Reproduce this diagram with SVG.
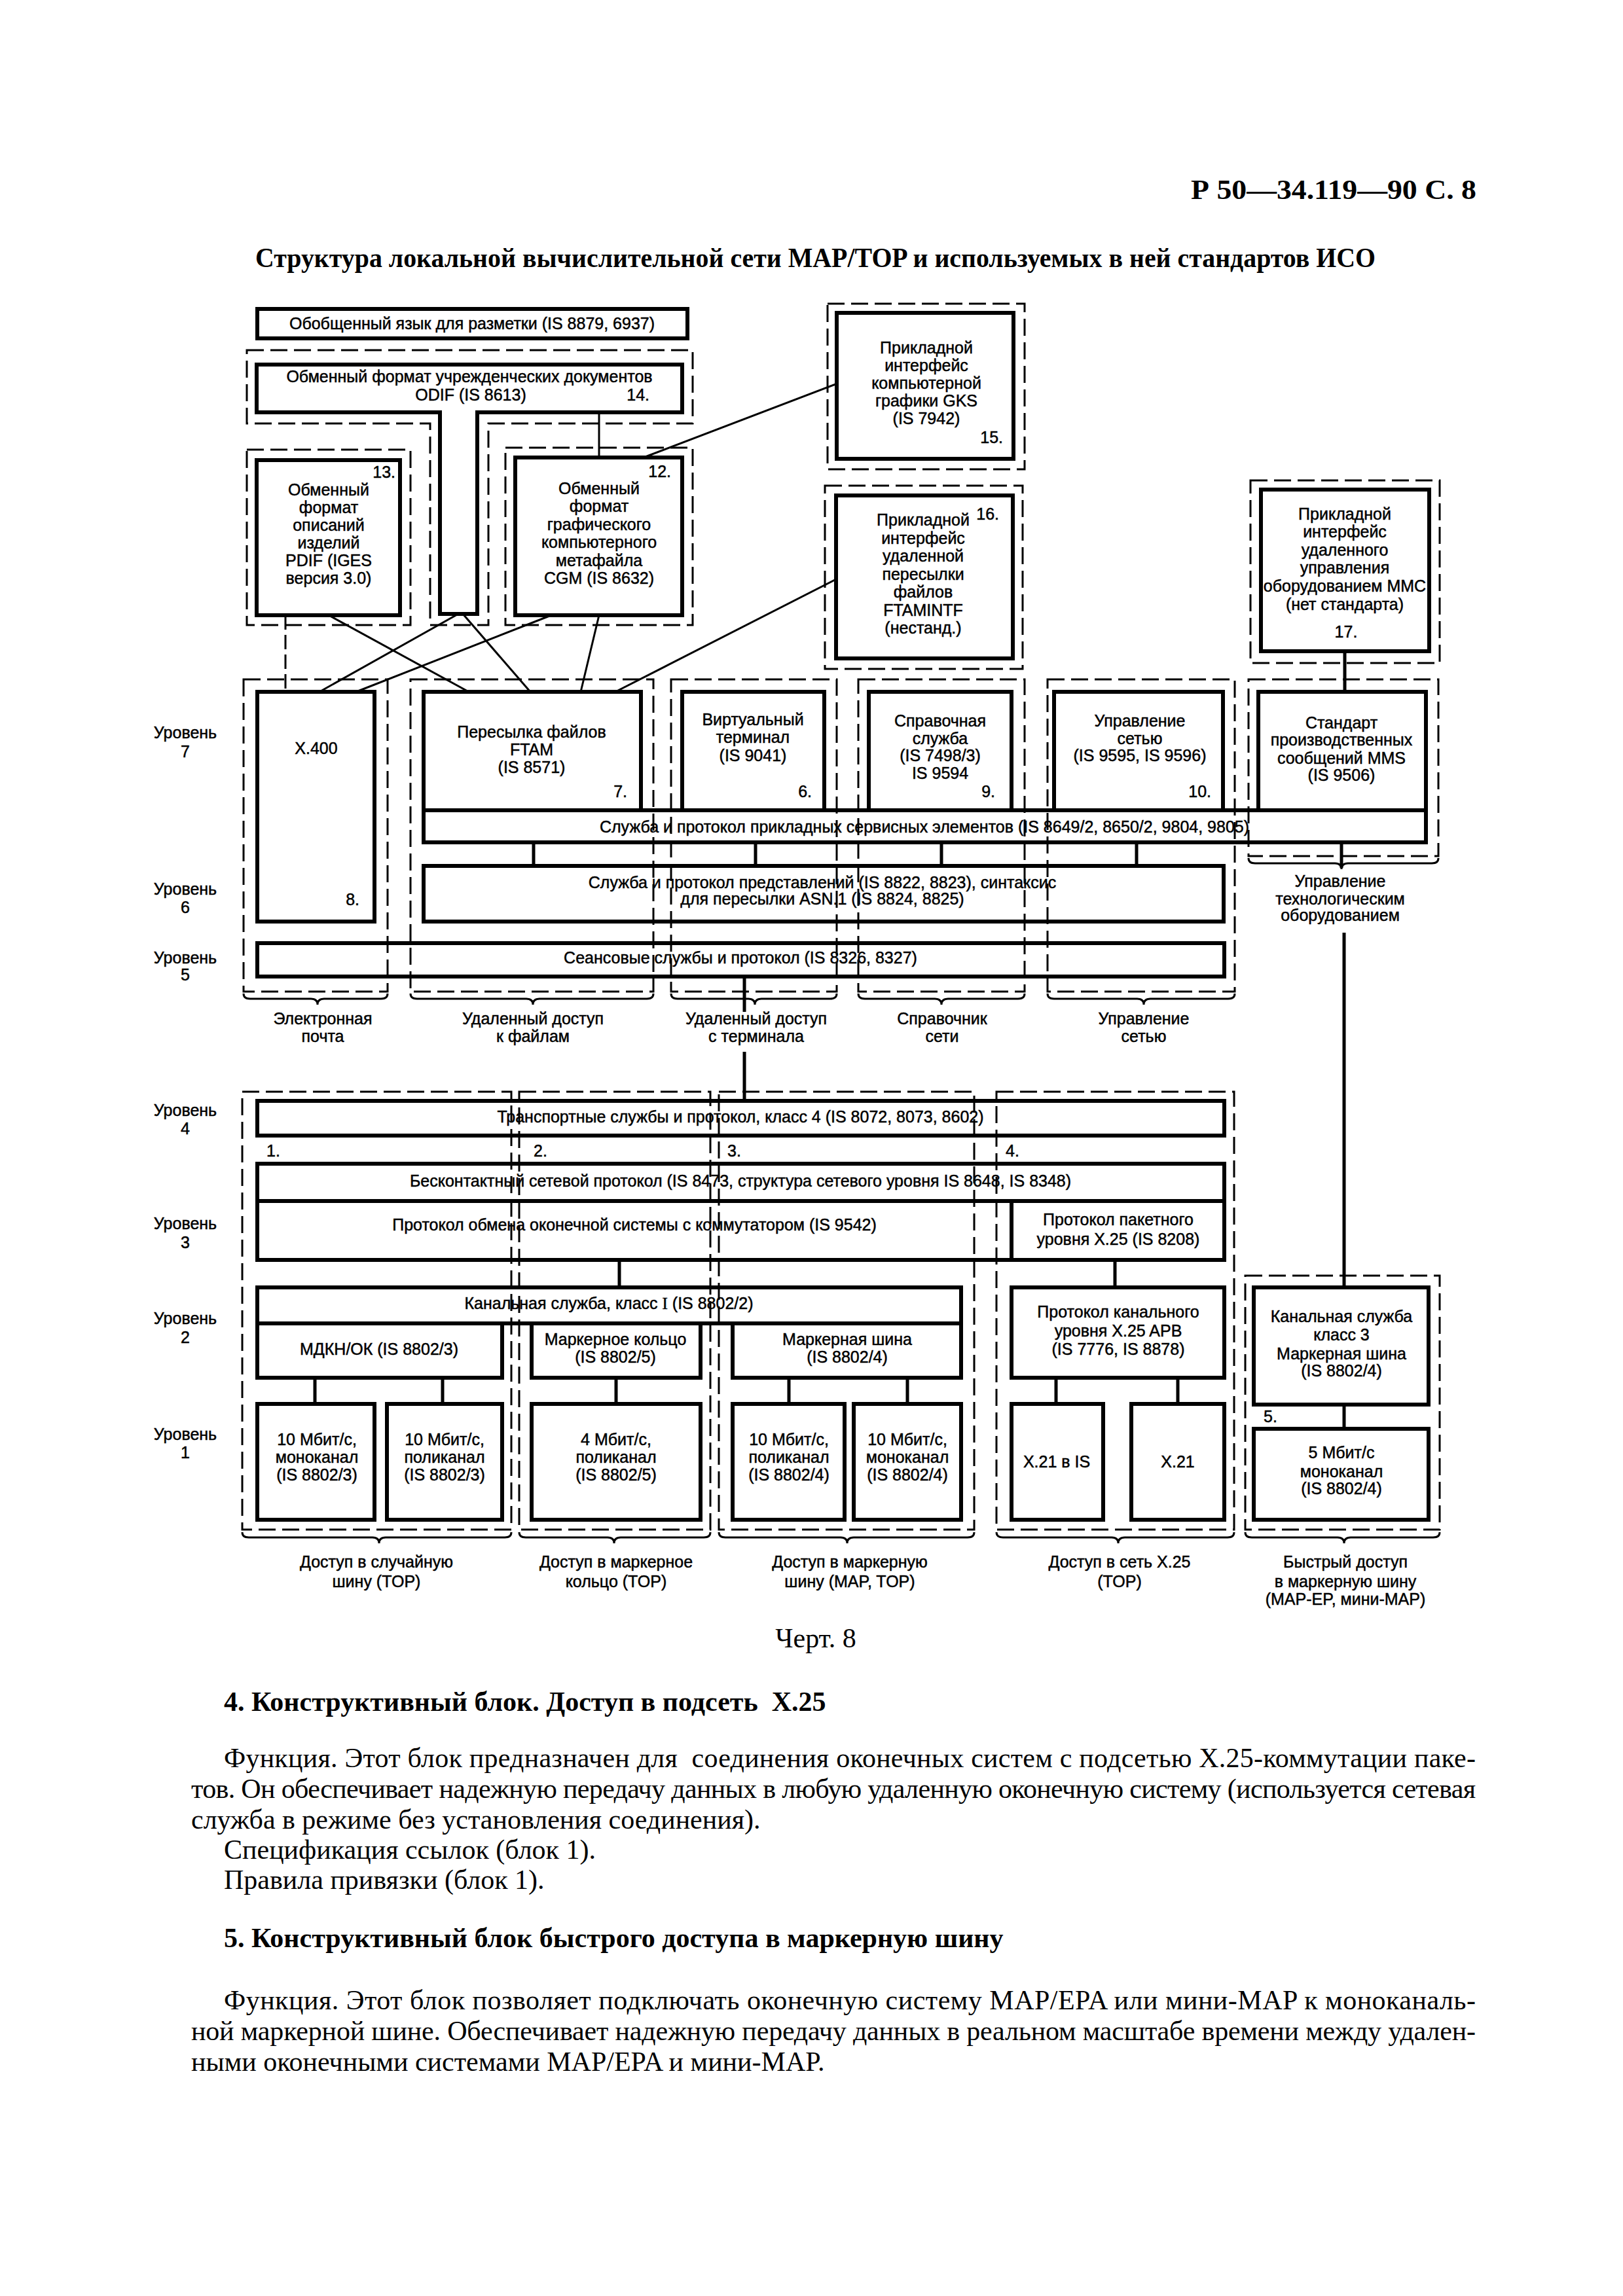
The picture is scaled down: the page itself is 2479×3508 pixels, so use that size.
<svg xmlns="http://www.w3.org/2000/svg" width="2479" height="3508" viewBox="0 0 2479 3508">
<style>
.b{fill:none;stroke:#000;stroke-width:6}
.d{fill:none;stroke:#000;stroke-width:3;stroke-dasharray:26 10}
.c{fill:none;stroke:#000;stroke-width:3}
.k{fill:none;stroke:#000;stroke-width:5}
.br{fill:none;stroke:#000;stroke-width:3}
.t{font-family:"Liberation Sans",Arial,sans-serif;font-size:25px;text-anchor:middle;fill:#000;stroke:#000;stroke-width:0.5}
.e{font-family:"Liberation Sans",Arial,sans-serif;font-size:25px;text-anchor:end;fill:#000;stroke:#000;stroke-width:0.5}
.s{font-family:"Liberation Sans",Arial,sans-serif;font-size:25px;text-anchor:start;fill:#000;stroke:#000;stroke-width:0.5}
.p{font-family:"Liberation Serif","Times New Roman",serif;font-size:42px;fill:#000}
.h{font-family:"Liberation Serif","Times New Roman",serif;font-size:42px;font-weight:bold;fill:#000}
</style>
<rect width="2479" height="3508" fill="#fff"/>

<g id="header">
<text class="h" x="2255" y="304" font-size="48" text-anchor="end" textLength="436" lengthAdjust="spacingAndGlyphs">Р 50—34.119—90 С. 8</text>
<text class="h" x="390" y="408" font-size="39" textLength="1711" lengthAdjust="spacingAndGlyphs">Структура локальной вычислительной сети MAP/TOP и используемых в ней стандартов ИСО</text>
</g>

<g id="groups">
<polygon class="d" points="377,535 1058,535 1058,647 746,647 746,955 657,955 657,647 377,647"/>
<rect class="d" x="377" y="687" width="250" height="268"/>
<rect class="d" x="772" y="684" width="286" height="271"/>
<rect class="d" x="1264" y="464" width="301" height="253"/>
<rect class="d" x="1260" y="742" width="302" height="280"/>
<rect class="d" x="1910" y="734" width="289" height="279"/>
<rect class="d" x="372" y="1038" width="220" height="477"/>
<rect class="d" x="627" y="1038" width="371" height="477"/>
<rect class="d" x="1025" y="1038" width="253" height="477"/>
<rect class="d" x="1311" y="1038" width="254" height="477"/>
<rect class="d" x="1600" y="1038" width="286" height="477"/>
<rect class="d" x="1907" y="1038" width="290" height="270"/>
<rect class="d" x="370" y="1668" width="411" height="669"/>
<rect class="d" x="793" y="1668" width="292" height="669"/>
<rect class="d" x="1098" y="1668" width="390" height="669"/>
<rect class="d" x="1522" y="1668" width="363" height="669"/>
<rect class="d" x="1902" y="1949" width="297" height="388"/>
<path class="br" d="M372,1518 Q372,1526 382,1526 H475 Q485,1526 485,1535 Q485,1526 495,1526 H582 Q592,1526 592,1518"/>
<path class="br" d="M627,1518 Q627,1526 637,1526 H804 Q814,1526 814,1535 Q814,1526 824,1526 H988 Q998,1526 998,1518"/>
<path class="br" d="M1025,1518 Q1025,1526 1035,1526 H1143 Q1153,1526 1153,1535 Q1153,1526 1163,1526 H1268 Q1278,1526 1278,1518"/>
<path class="br" d="M1311,1518 Q1311,1526 1321,1526 H1428 Q1438,1526 1438,1535 Q1438,1526 1448,1526 H1555 Q1565,1526 1565,1518"/>
<path class="br" d="M1600,1518 Q1600,1526 1610,1526 H1737 Q1747,1526 1747,1535 Q1747,1526 1757,1526 H1876 Q1886,1526 1886,1518"/>
<path class="br" d="M1907,1311 Q1907,1319 1917,1319 H2039 Q2049,1319 2049,1328 Q2049,1319 2059,1319 H2187 Q2197,1319 2197,1311"/>
<path class="br" d="M370,2341 Q370,2349 380,2349 H569 Q579,2349 579,2358 Q579,2349 589,2349 H771 Q781,2349 781,2341"/>
<path class="br" d="M793,2341 Q793,2349 803,2349 H928 Q938,2349 938,2358 Q938,2349 948,2349 H1075 Q1085,2349 1085,2341"/>
<path class="br" d="M1098,2341 Q1098,2349 1108,2349 H1284 Q1294,2349 1294,2358 Q1294,2349 1304,2349 H1478 Q1488,2349 1488,2341"/>
<path class="br" d="M1522,2341 Q1522,2349 1532,2349 H1698 Q1708,2349 1708,2358 Q1708,2349 1718,2349 H1875 Q1885,2349 1885,2341"/>
<path class="br" d="M1902,2341 Q1902,2349 1912,2349 H2043 Q2053,2349 2053,2358 Q2053,2349 2063,2349 H2189 Q2199,2349 2199,2341"/>
</g>

<g id="connectors">
<line class="c" x1="1279" y1="586" x2="983" y2="699"/>
<line class="c" x1="1279" y1="884" x2="940" y2="1057"/>
<line class="c" x1="502" y1="940" x2="716" y2="1057"/>
<line class="c" x1="700" y1="938" x2="488" y2="1057"/>
<line class="c" x1="707" y1="938" x2="810" y2="1057"/>
<line class="c" x1="842" y1="940" x2="544" y2="1057"/>
<line class="c" x1="915" y1="940" x2="887" y2="1057"/>
<line class="c" x1="436" y1="940" x2="436" y2="1057" stroke-dasharray="22 8"/>
<line class="c" x1="915" y1="630" x2="915" y2="699" stroke-width="2"/>
<line class="k" x1="2054" y1="995" x2="2054" y2="1057"/>
<line class="k" x1="815" y1="1287" x2="815" y2="1323"/>
<line class="k" x1="1154" y1="1287" x2="1154" y2="1323"/>
<line class="k" x1="1438" y1="1287" x2="1438" y2="1323"/>
<line class="k" x1="1736" y1="1287" x2="1736" y2="1323"/>
<line class="k" x1="2049" y1="1287" x2="2049" y2="1326"/>
<line class="k" x1="2053" y1="1425" x2="2053" y2="1967"/>
<line class="k" x1="1137" y1="1492" x2="1137" y2="1546"/>
<line class="k" x1="1137" y1="1607" x2="1137" y2="1682"/>
<line class="k" x1="946" y1="1925" x2="946" y2="1967"/>
<line class="k" x1="1703" y1="1925" x2="1703" y2="1967"/>
<line class="k" x1="481" y1="2105" x2="481" y2="2145"/>
<line class="k" x1="676" y1="2105" x2="676" y2="2145"/>
<line class="k" x1="941" y1="2105" x2="941" y2="2145"/>
<line class="k" x1="1205" y1="2105" x2="1205" y2="2145"/>
<line class="k" x1="1386" y1="2105" x2="1386" y2="2145"/>
<line class="k" x1="1613" y1="2105" x2="1613" y2="2145"/>
<line class="k" x1="1799" y1="2105" x2="1799" y2="2145"/>
<line class="k" x1="2053" y1="2146" x2="2053" y2="2183"/>
</g>

<g id="n-sgml">
<rect class="b" x="393" y="472" width="657" height="45"/>
<text class="t" x="721" y="503">Обобщенный язык для разметки (IS 8879, 6937)</text>
</g>
<g id="n-odif">
<polygon class="b" points="392,557 1042,557 1042,630 729,630 729,938 672,938 672,630 392,630"/>
<text class="t" x="717" y="584">Обменный формат учрежденческих документов</text>
<text class="t" x="719" y="612">ODIF (IS 8613)</text>
<text class="e" x="992" y="612">14.</text>
</g>
<g id="n-pdif">
<rect class="b" x="392" y="703" width="219" height="237"/>
<text class="e" x="604" y="730">13.</text>
<text class="t" x="502" y="757">Обменный</text>
<text class="t" x="502" y="784">формат</text>
<text class="t" x="502" y="811">описаний</text>
<text class="t" x="502" y="838">изделий</text>
<text class="t" x="502" y="865">PDIF (IGES</text>
<text class="t" x="502" y="892">версия 3.0)</text>
</g>
<g id="n-cgm">
<rect class="b" x="787" y="699" width="255" height="241"/>
<text class="e" x="1025" y="729">12.</text>
<text class="t" x="915" y="755">Обменный</text>
<text class="t" x="915" y="782">формат</text>
<text class="t" x="915" y="810">графического</text>
<text class="t" x="915" y="837">компьютерного</text>
<text class="t" x="915" y="865">метафайла</text>
<text class="t" x="915" y="892">CGM (IS 8632)</text>
</g>
<g id="n-gks">
<rect class="b" x="1278" y="478" width="270" height="223"/>
<text class="t" x="1415" y="540">Прикладной</text>
<text class="t" x="1415" y="567">интерфейс</text>
<text class="t" x="1415" y="594">компьютерной</text>
<text class="t" x="1415" y="621">графики GKS</text>
<text class="t" x="1415" y="648">(IS 7942)</text>
<text class="e" x="1532" y="677">15.</text>
</g>
<g id="n-ftamintf">
<rect class="b" x="1277" y="757" width="270" height="249"/>
<text class="e" x="1526" y="794">16.</text>
<text class="t" x="1410" y="803">Прикладной</text>
<text class="t" x="1410" y="831">интерфейс</text>
<text class="t" x="1410" y="858">удаленной</text>
<text class="t" x="1410" y="886">пересылки</text>
<text class="t" x="1410" y="913">файлов</text>
<text class="t" x="1410" y="941">FTAMINTF</text>
<text class="t" x="1410" y="968">(нестанд.)</text>
</g>
<g id="n-mmc">
<rect class="b" x="1926" y="748" width="257" height="247"/>
<text class="t" x="2054" y="794">Прикладной</text>
<text class="t" x="2054" y="821">интерфейс</text>
<text class="t" x="2054" y="849">удаленного</text>
<text class="t" x="2054" y="876">управления</text>
<text class="t" x="2054" y="904">оборудованием MMC</text>
<text class="t" x="2054" y="932">(нет стандарта)</text>
<text class="t" x="2056" y="974">17.</text>
</g>

<g id="levels">
<text class="t" x="283" y="1128">Уровень</text><text class="t" x="283" y="1157">7</text>
<text class="t" x="283" y="1367">Уровень</text><text class="t" x="283" y="1395">6</text>
<text class="t" x="283" y="1472">Уровень</text><text class="t" x="283" y="1498">5</text>
<text class="t" x="283" y="1705">Уровень</text><text class="t" x="283" y="1733">4</text>
<text class="t" x="283" y="1878">Уровень</text><text class="t" x="283" y="1907">3</text>
<text class="t" x="283" y="2023">Уровень</text><text class="t" x="283" y="2052">2</text>
<text class="t" x="283" y="2200">Уровень</text><text class="t" x="283" y="2228">1</text>
</g>

<g id="n-x400">
<rect class="b" x="393" y="1057" width="179" height="351"/>
<text class="t" x="483" y="1152">X.400</text>
<text class="e" x="549" y="1383">8.</text>
</g>
<g id="n-ftam">
<rect class="b" x="647" y="1057" width="332" height="181"/>
<text class="t" x="812" y="1127">Пересылка файлов</text>
<text class="t" x="812" y="1154">FTAM</text>
<text class="t" x="812" y="1181">(IS 8571)</text>
<text class="e" x="958" y="1218">7.</text>
</g>
<g id="n-vt">
<rect class="b" x="1042" y="1057" width="217" height="181"/>
<text class="t" x="1150" y="1108">Виртуальный</text>
<text class="t" x="1150" y="1135">терминал</text>
<text class="t" x="1150" y="1163">(IS 9041)</text>
<text class="e" x="1240" y="1218">6.</text>
</g>
<g id="n-ds">
<rect class="b" x="1327" y="1057" width="218" height="181"/>
<text class="t" x="1436" y="1110">Справочная</text>
<text class="t" x="1436" y="1137">служба</text>
<text class="t" x="1436" y="1163">(IS 7498/3)</text>
<text class="t" x="1436" y="1190">IS 9594</text>
<text class="e" x="1520" y="1218">9.</text>
</g>
<g id="n-nm">
<rect class="b" x="1610" y="1057" width="258" height="181"/>
<text class="t" x="1741" y="1110">Управление</text>
<text class="t" x="1741" y="1137">сетью</text>
<text class="t" x="1741" y="1163">(IS 9595, IS 9596)</text>
<text class="e" x="1850" y="1218">10.</text>
</g>
<g id="n-mms">
<rect class="b" x="1922" y="1057" width="256" height="181"/>
<text class="t" x="2049" y="1113">Стандарт</text>
<text class="t" x="2049" y="1139">производственных</text>
<text class="t" x="2049" y="1167">сообщений MMS</text>
<text class="t" x="2049" y="1193">(IS 9506)</text>
</g>
<g id="n-ase">
<rect class="b" x="647" y="1238" width="1531" height="49"/>
<text class="t" x="1412" y="1272">Служба и протокол прикладных сервисных элементов (IS 8649/2, 8650/2, 9804, 9805)</text>
</g>
<g id="n-pres">
<rect class="b" x="647" y="1323" width="1222" height="85"/>
<text class="t" x="1256" y="1357">Служба и протокол представлений (IS 8822, 8823), синтаксис</text>
<text class="t" x="1256" y="1382">для пересылки ASN.1 (IS 8824, 8825)</text>
</g>
<g id="n-sess">
<rect class="b" x="393" y="1441" width="1477" height="51"/>
<text class="t" x="1131" y="1472">Сеансовые службы и протокол (IS 8326, 8327)</text>
</g>
<g id="labels-upper">
<text class="t" x="493" y="1565">Электронная</text><text class="t" x="493" y="1592">почта</text>
<text class="t" x="814" y="1565">Удаленный доступ</text><text class="t" x="814" y="1592">к файлам</text>
<text class="t" x="1155" y="1565">Удаленный доступ</text><text class="t" x="1155" y="1592">с терминала</text>
<text class="t" x="1439" y="1565">Справочник</text><text class="t" x="1439" y="1592">сети</text>
<text class="t" x="1747" y="1565">Управление</text><text class="t" x="1747" y="1592">сетью</text>
<text class="t" x="2047" y="1355">Управление</text><text class="t" x="2047" y="1382">технологическим</text><text class="t" x="2047" y="1407">оборудованием</text>
</g>

<g id="n-transport">
<rect class="b" x="393" y="1682" width="1477" height="53"/>
<text class="t" x="1131" y="1715">Транспортные службы и протокол, класс 4 (IS 8072, 8073, 8602)</text>
</g>
<g id="numbers">
<text class="s" x="407" y="1767">1.</text>
<text class="s" x="815" y="1767">2.</text>
<text class="s" x="1111" y="1767">3.</text>
<text class="s" x="1536" y="1767">4.</text>
<text class="s" x="1930" y="2173">5.</text>
</g>
<g id="n-clnp">
<rect class="b" x="393" y="1778" width="1477" height="57"/>
<text class="t" x="1131" y="1813">Бесконтактный сетевой протокол (IS 8473, структура сетевого уровня IS 8648, IS 8348)</text>
</g>
<g id="n-esis">
<rect class="b" x="393" y="1835" width="1477" height="90"/>
<text class="t" x="969" y="1880">Протокол обмена оконечной системы с коммутатором (IS 9542)</text>
</g>
<g id="n-x25plp">
<line class="b" x1="1545" y1="1835" x2="1545" y2="1925"/>
<text class="t" x="1708" y="1872">Протокол пакетного</text>
<text class="t" x="1708" y="1902">уровня X.25 (IS 8208)</text>
</g>
<g id="n-llc">
<rect class="b" x="393" y="1967" width="1075" height="55"/>
<text class="t" x="930" y="2000">Канальная служба, класс <tspan font-family="Liberation Serif, serif">I</tspan> (IS 8802/2)</text>
</g>
<g id="n-csma">
<rect class="b" x="393" y="2022" width="374" height="83"/>
<text class="t" x="579" y="2070">МДКН/ОК (IS 8802/3)</text>
</g>
<g id="n-ring">
<rect class="b" x="812" y="2022" width="258" height="83"/>
<text class="t" x="940" y="2055">Маркерное кольцо</text>
<text class="t" x="940" y="2082">(IS 8802/5)</text>
</g>
<g id="n-bus">
<rect class="b" x="1119" y="2022" width="349" height="83"/>
<text class="t" x="1294" y="2055">Маркерная шина</text>
<text class="t" x="1294" y="2082">(IS 8802/4)</text>
</g>
<g id="n-x25link">
<rect class="b" x="1545" y="1967" width="325" height="138"/>
<text class="t" x="1708" y="2013">Протокол канального</text>
<text class="t" x="1708" y="2042">уровня X.25 APB</text>
<text class="t" x="1708" y="2070">(IS 7776, IS 8878)</text>
</g>
<g id="n-llc3">
<rect class="b" x="1915" y="1967" width="267" height="179"/>
<text class="t" x="2049" y="2020">Канальная служба</text>
<text class="t" x="2049" y="2048">класс 3</text>
<text class="t" x="2049" y="2077">Маркерная шина</text>
<text class="t" x="2049" y="2103">(IS 8802/4)</text>
</g>
<g id="n-phy1">
<rect class="b" x="393" y="2145" width="179" height="177"/>
<text class="t" x="484" y="2208">10 Мбит/с,</text><text class="t" x="484" y="2235">моноканал</text><text class="t" x="484" y="2262">(IS 8802/3)</text>
</g>
<g id="n-phy2">
<rect class="b" x="591" y="2145" width="176" height="177"/>
<text class="t" x="679" y="2208">10 Мбит/с,</text><text class="t" x="679" y="2235">поликанал</text><text class="t" x="679" y="2262">(IS 8802/3)</text>
</g>
<g id="n-phy3">
<rect class="b" x="812" y="2145" width="258" height="177"/>
<text class="t" x="941" y="2208">4 Мбит/с,</text><text class="t" x="941" y="2235">поликанал</text><text class="t" x="941" y="2262">(IS 8802/5)</text>
</g>
<g id="n-phy4">
<rect class="b" x="1119" y="2145" width="171" height="177"/>
<text class="t" x="1205" y="2208">10 Мбит/с,</text><text class="t" x="1205" y="2235">поликанал</text><text class="t" x="1205" y="2262">(IS 8802/4)</text>
</g>
<g id="n-phy5">
<rect class="b" x="1304" y="2145" width="164" height="177"/>
<text class="t" x="1386" y="2208">10 Мбит/с,</text><text class="t" x="1386" y="2235">моноканал</text><text class="t" x="1386" y="2262">(IS 8802/4)</text>
</g>
<g id="n-x21is">
<rect class="b" x="1545" y="2145" width="140" height="177"/>
<text class="t" x="1614" y="2242">X.21 в IS</text>
</g>
<g id="n-x21">
<rect class="b" x="1728" y="2145" width="142" height="177"/>
<text class="t" x="1799" y="2242">X.21</text>
</g>
<g id="n-phy6">
<rect class="b" x="1915" y="2183" width="267" height="139"/>
<text class="t" x="2049" y="2228">5 Мбит/с</text><text class="t" x="2049" y="2257">моноканал</text><text class="t" x="2049" y="2283">(IS 8802/4)</text>
</g>
<g id="labels-lower">
<text class="t" x="575" y="2395">Доступ в случайную</text><text class="t" x="575" y="2425">шину (TOP)</text>
<text class="t" x="941" y="2395">Доступ в маркерное</text><text class="t" x="941" y="2425">кольцо (TOP)</text>
<text class="t" x="1298" y="2395">Доступ в маркерную</text><text class="t" x="1298" y="2425">шину (MAP, TOP)</text>
<text class="t" x="1710" y="2395">Доступ в сеть X.25</text><text class="t" x="1710" y="2425">(TOP)</text>
<text class="t" x="2055" y="2395">Быстрый доступ</text><text class="t" x="2055" y="2425">в маркерную шину</text><text class="t" x="2055" y="2452">(MAP-EP, мини-MAP)</text>
</g>

<g id="body">
<text class="p" x="1246" y="2517" font-size="38" text-anchor="middle">Черт. 8</text>
<text class="h" x="342" y="2614">4. Конструктивный блок. Доступ в подсеть &#160;X.25</text>
<text class="p" x="342" y="2700" textLength="1912" lengthAdjust="spacing">Функция. Этот блок предназначен для &#160;соединения оконечных систем с подсетью X.25-коммутации паке-</text>
<text class="p" x="292" y="2747" textLength="1962" lengthAdjust="spacing">тов. Он обеспечивает надежную передачу данных в любую удаленную оконечную систему (используется сетевая</text>
<text class="p" x="292" y="2794">служба в режиме без установления соединения).</text>
<text class="p" x="342" y="2840">Спецификация ссылок (блок 1).</text>
<text class="p" x="342" y="2886">Правила привязки (блок 1).</text>
<text class="h" x="342" y="2975">5. Конструктивный блок быстрого доступа в маркерную шину</text>
<text class="p" x="342" y="3070" textLength="1912" lengthAdjust="spacing">Функция. Этот блок позволяет подключать оконечную систему MAP/EPA или мини-MAP к моноканаль-</text>
<text class="p" x="292" y="3117" textLength="1962" lengthAdjust="spacing">ной маркерной шине. Обеспечивает надежную передачу данных в реальном масштабе времени между удален-</text>
<text class="p" x="292" y="3164">ными оконечными системами MAP/EPA и мини-MAP.</text>
</g>
</svg>
